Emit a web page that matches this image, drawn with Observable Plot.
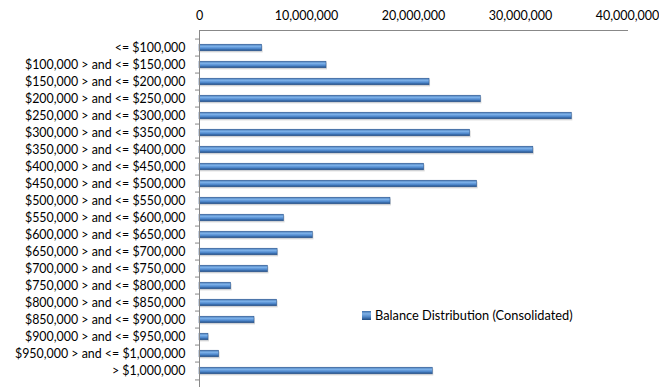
<!DOCTYPE html>
<html><head><meta charset="utf-8">
<script src="https://cdn.jsdelivr.net/npm/d3@7"></script>
<script src="https://cdn.jsdelivr.net/npm/@observablehq/plot@0.6"></script>
<style>
body{margin:0;background:#fff;}
#wrap{position:relative;width:659px;height:388px;}
#legend{position:absolute;left:362px;top:307px;font-family:Lato,sans-serif;font-size:12.8px;color:#000;display:flex;align-items:center;white-space:nowrap;}
#legend .sw{width:9px;height:9px;margin-right:4px;background:linear-gradient(#3d6ea8,#7eb0e6 30%,#4f86c6 65%,#1f4a80);}
</style></head><body><div id="wrap"><div id="legend"><span class="sw"></span><span id="legtext"></span></div></div>
<script>
const categories = [
  "<= $100,000",
  "$100,000 > and <= $150,000",
  "$150,000 > and <= $200,000",
  "$200,000 > and <= $250,000",
  "$250,000 > and <= $300,000",
  "$300,000 > and <= $350,000",
  "$350,000 > and <= $400,000",
  "$400,000 > and <= $450,000",
  "$450,000 > and <= $500,000",
  "$500,000 > and <= $550,000",
  "$550,000 > and <= $600,000",
  "$600,000 > and <= $650,000",
  "$650,000 > and <= $700,000",
  "$700,000 > and <= $750,000",
  "$750,000 > and <= $800,000",
  "$800,000 > and <= $850,000",
  "$850,000 > and <= $900,000",
  "$900,000 > and <= $950,000",
  "$950,000 > and <= $1,000,000",
  "> $1,000,000"
];
const balances = [
  5860000, 11870000, 21500000, 26300000, 34800000,
  25300000, 31200000, 21000000, 25950000, 17850000,
  7900000, 10600000, 7300000, 6400000, 2960000,
  7260000, 5140000, 840000, 1840000, 21800000
];
const xTicks = [0, 10000000, 20000000, 30000000, 40000000];
const seriesName = "Balance Distribution (Consolidated)";

const data = categories.map((c, i) => ({category: c, balance: balances[i]}));
const step = (388 - 1 - 30) / categories.length;

const defs = () => {
  const d = d3.create("svg:defs");
  const g = d.append("linearGradient").attr("id", "barGrad").attr("x1", 0).attr("y1", 0).attr("x2", 0).attr("y2", 1);
  [["0%", "#3d6ea8"], ["30%", "#80b4ec"], ["65%", "#4f88cc"], ["100%", "#1f4a80"]]
    .forEach(([o, c]) => g.append("stop").attr("offset", o).attr("stop-color", c));
  return d.node();
};

const plot = Plot.plot({
  width: 659, height: 388,
  marginLeft: 199, marginRight: 32, marginTop: 30, marginBottom: 1,
  style: {fontFamily: "Lato, sans-serif", fontSize: "12px", color: "#000", background: "#fff", overflow: "visible"},
  x: {domain: [0, 40000000], axis: null},
  y: {domain: categories, padding: 0, axis: null},
  marks: [
    defs,
    Plot.barX(data, {y: "category", x: "balance", fill: "#000", fillOpacity: 0.15, insetTop: 6.5, insetBottom: 3.6, dx: 1}),
    Plot.barX(data, {y: "category", x: "balance", fill: "url(#barGrad)", stroke: "#2a5690", strokeWidth: 0.5, insetTop: 5.2, insetBottom: 5.2}),
    Plot.ruleX([0], {stroke: "#888"}),
    Plot.frame({anchor: "top", stroke: "#888"}),
    Plot.axisX(xTicks, {anchor: "top", tickSize: 0, tickPadding: 11, tickFormat: d3.format(","), fontSize: 12.5, label: null}),
    Plot.axisY({anchor: "left", tickSize: 0, tickPadding: 14, label: null, fontSize: 12.4}),
    Plot.axisY({anchor: "left", tickSize: 4, tickFormat: () => "", label: null, dy: -step / 2, stroke: "#888"}),
    Plot.axisY([categories[categories.length - 1]], {anchor: "left", tickSize: 4, tickFormat: () => "", label: null, dy: step / 2, stroke: "#888"})
  ]
});
document.getElementById("wrap").prepend(plot);
document.getElementById("legtext").textContent = seriesName;
</script>
</body></html>
